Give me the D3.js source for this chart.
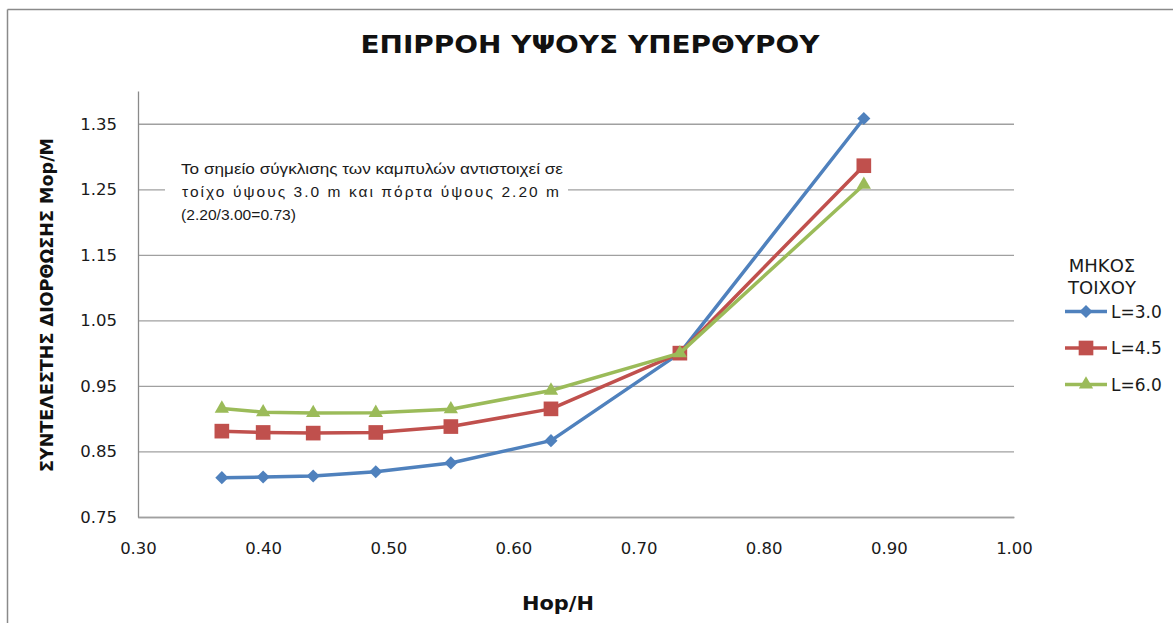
<!DOCTYPE html>
<html>
<head>
<meta charset="utf-8">
<script src="https://cdn.jsdelivr.net/npm/d3@7"></script>
<style>
  body { margin: 0; background: #fff; }
  svg { display: block; }
</style>
</head>
<body>
<svg id="chart" width="1173" height="623"></svg>
<script>
// Door-to-wall height ratio Hop/H (x) for each measured case
const ratios = [0.367, 0.40, 0.44, 0.49, 0.55, 0.63, 0.733, 0.88];

// Correction factor Mop/M per wall length L
const seriesNames = ["L=3.0", "L=4.5", "L=6.0"];
const valuesL30 = [0.810, 0.811, 0.8125, 0.819, 0.8325, 0.8665, 1.000, 1.358];
const valuesL45 = [0.881, 0.879, 0.878, 0.879, 0.888, 0.915, 1.000, 1.286];
const valuesL60 = [0.9155, 0.910, 0.9087, 0.909, 0.9145, 0.943, 1.000, 1.257];

const xTicks = [0.30, 0.40, 0.50, 0.60, 0.70, 0.80, 0.90, 1.00];
const yTicks = [0.75, 0.85, 0.95, 1.05, 1.15, 1.25, 1.35];

const titleText = "ΕΠΙΡΡΟΗ ΥΨΟΥΣ ΥΠΕΡΘΥΡΟΥ";
const yTitleText = "ΣΥΝΤΕΛΕΣΤΗΣ ΔΙΟΡΘΩΣΗΣ Mop/M";
const xTitleText = "Hop/H";
const legendTitle = ["ΜΗΚΟΣ", "ΤΟΙΧΟΥ"];
const noteLines = [
  "Το σημείο σύγκλισης των καμπυλών αντιστοιχεί σε",
  "τοίχο ύψους 3.0 m και πόρτα ύψους 2.20 m",
  "(2.20/3.00=0.73)"
];

const colors = ["#4F81BD", "#C0504D", "#9BBB59"];
const symbols = [
  { type: d3.symbolSquare, size: 86, rotate: 45 },
  { type: d3.symbolSquare, size: 215, rotate: 0 },
  { type: d3.symbolTriangle, size: 88, rotate: 0 }
];

const series = seriesNames.map((name, i) => ({
  name,
  values: [valuesL30, valuesL45, valuesL60][i].map((v, j) => ({ x: ratios[j], y: v }))
}));

const svg = d3.select("#chart");
const font = "'DejaVu Sans', Verdana, sans-serif";
const noteFont = "'Liberation Sans', Arial, sans-serif";

const plot = { left: 138, right: 1014, top: 91, bottom: 517 };
const x = d3.scaleLinear().domain([0.30, 1.00]).range([plot.left, plot.right]);
const y = d3.scaleLinear().domain([0.75, 1.40]).range([plot.bottom, plot.top]);

// Outer chart frame (top and left edges)
svg.append("line").attr("x1", 7.5).attr("x2", 1173).attr("y1", 9.5).attr("y2", 9.5)
  .attr("stroke", "#8a8a8a").attr("stroke-width", 1.5);
svg.append("line").attr("x1", 7.5).attr("x2", 7.5).attr("y1", 9.5).attr("y2", 623)
  .attr("stroke", "#8a8a8a").attr("stroke-width", 1.5);

// Horizontal gridlines
const grid = svg.append("g")
  .attr("transform", `translate(${plot.left},0)`)
  .call(d3.axisLeft(y).tickValues(yTicks).tickSize(-(plot.right - plot.left)).tickFormat(""));
grid.select(".domain").remove();
grid.selectAll(".tick line").attr("stroke", "#a0a0a0").attr("stroke-width", 1.3);

// Y axis
const yAxis = svg.append("g")
  .attr("transform", `translate(${plot.left},0)`)
  .call(d3.axisLeft(y).tickValues(yTicks).tickSize(0).tickPadding(21).tickFormat(d3.format(".2f")));
yAxis.select(".domain").attr("stroke", "#8a8a8a").attr("stroke-width", 1.3);
yAxis.selectAll("text").attr("font-family", font).attr("font-size", 16.5).attr("fill", "#1a1a1a");

// X axis
const xAxis = svg.append("g")
  .attr("transform", `translate(0,${plot.bottom})`)
  .call(d3.axisBottom(x).tickValues(xTicks).tickSize(0).tickPadding(25).tickFormat(d3.format(".2f")));
xAxis.select(".domain").attr("stroke", "#a0a0a0").attr("stroke-width", 1.5);
xAxis.selectAll("text").attr("font-family", font).attr("font-size", 16.5).attr("fill", "#1a1a1a");

// Annotation box
svg.append("rect").attr("x", 165).attr("y", 150).attr("width", 403).attr("height", 78).attr("fill", "#fff");
const note = svg.append("g").attr("font-family", noteFont).attr("font-size", 15.5).attr("fill", "#1a1a1a");
note.append("text").attr("x", 181).attr("y", 174).text(noteLines[0])
  .attr("textLength", 382).attr("lengthAdjust", "spacingAndGlyphs");
note.append("text").attr("x", 182).attr("y", 197).text(noteLines[1])
  .attr("textLength", 377).attr("lengthAdjust", "spacing");
note.append("text").attr("x", 181).attr("y", 220).text(noteLines[2])
  .attr("textLength", 115).attr("lengthAdjust", "spacingAndGlyphs");

// Series lines and markers
const line = d3.line().x(d => x(d.x)).y(d => y(d.y));
series.forEach((s, i) => {
  const g = svg.append("g");
  g.append("path").datum(s.values).attr("d", line)
    .attr("fill", "none").attr("stroke", colors[i]).attr("stroke-width", 3.5)
    .attr("stroke-linejoin", "round").attr("stroke-linecap", "round");
  const sym = d3.symbol().type(symbols[i].type).size(symbols[i].size);
  g.selectAll("path.marker").data(s.values).join("path").attr("class", "marker")
    .attr("d", sym)
    .attr("transform", d => `translate(${x(d.x)},${y(d.y)}) rotate(${symbols[i].rotate})`)
    .attr("fill", colors[i]);
});

// Chart title
svg.append("text").attr("x", 590).attr("y", 53).attr("text-anchor", "middle")
  .attr("font-family", font).attr("font-weight", "bold").attr("font-size", 24)
  .attr("fill", "#111").attr("textLength", 459).attr("lengthAdjust", "spacingAndGlyphs")
  .text(titleText);

// Axis titles
svg.append("text").attr("transform", "translate(53,305) rotate(-90)").attr("text-anchor", "middle")
  .attr("font-family", font).attr("font-weight", "bold").attr("font-size", 18)
  .attr("fill", "#111").attr("textLength", 334).attr("lengthAdjust", "spacingAndGlyphs")
  .text(yTitleText);
svg.append("text").attr("x", 558).attr("y", 610).attr("text-anchor", "middle")
  .attr("font-family", font).attr("font-weight", "bold").attr("font-size", 19)
  .attr("fill", "#111").attr("textLength", 72).attr("lengthAdjust", "spacingAndGlyphs")
  .text(xTitleText);

// Legend
const legend = svg.append("g").attr("font-family", font).attr("fill", "#1a1a1a");
legendTitle.forEach((t, i) => {
  legend.append("text").attr("x", 1102).attr("y", 272 + i * 22).attr("text-anchor", "middle")
    .attr("font-size", 18).text(t);
});
const legendY = [311.5, 348, 384.5];
series.forEach((s, i) => {
  const g = legend.append("g").attr("transform", `translate(0,${legendY[i]})`);
  g.append("line").attr("x1", 1065).attr("x2", 1107).attr("stroke", colors[i]).attr("stroke-width", 3.5);
  g.append("path").attr("d", d3.symbol().type(symbols[i].type).size(symbols[i].size))
    .attr("transform", `translate(1086,0) rotate(${symbols[i].rotate})`).attr("fill", colors[i]);
  g.append("text").attr("x", 1111).attr("dy", "0.36em").attr("font-size", 17).text(s.name);
});
</script>
</body>
</html>
